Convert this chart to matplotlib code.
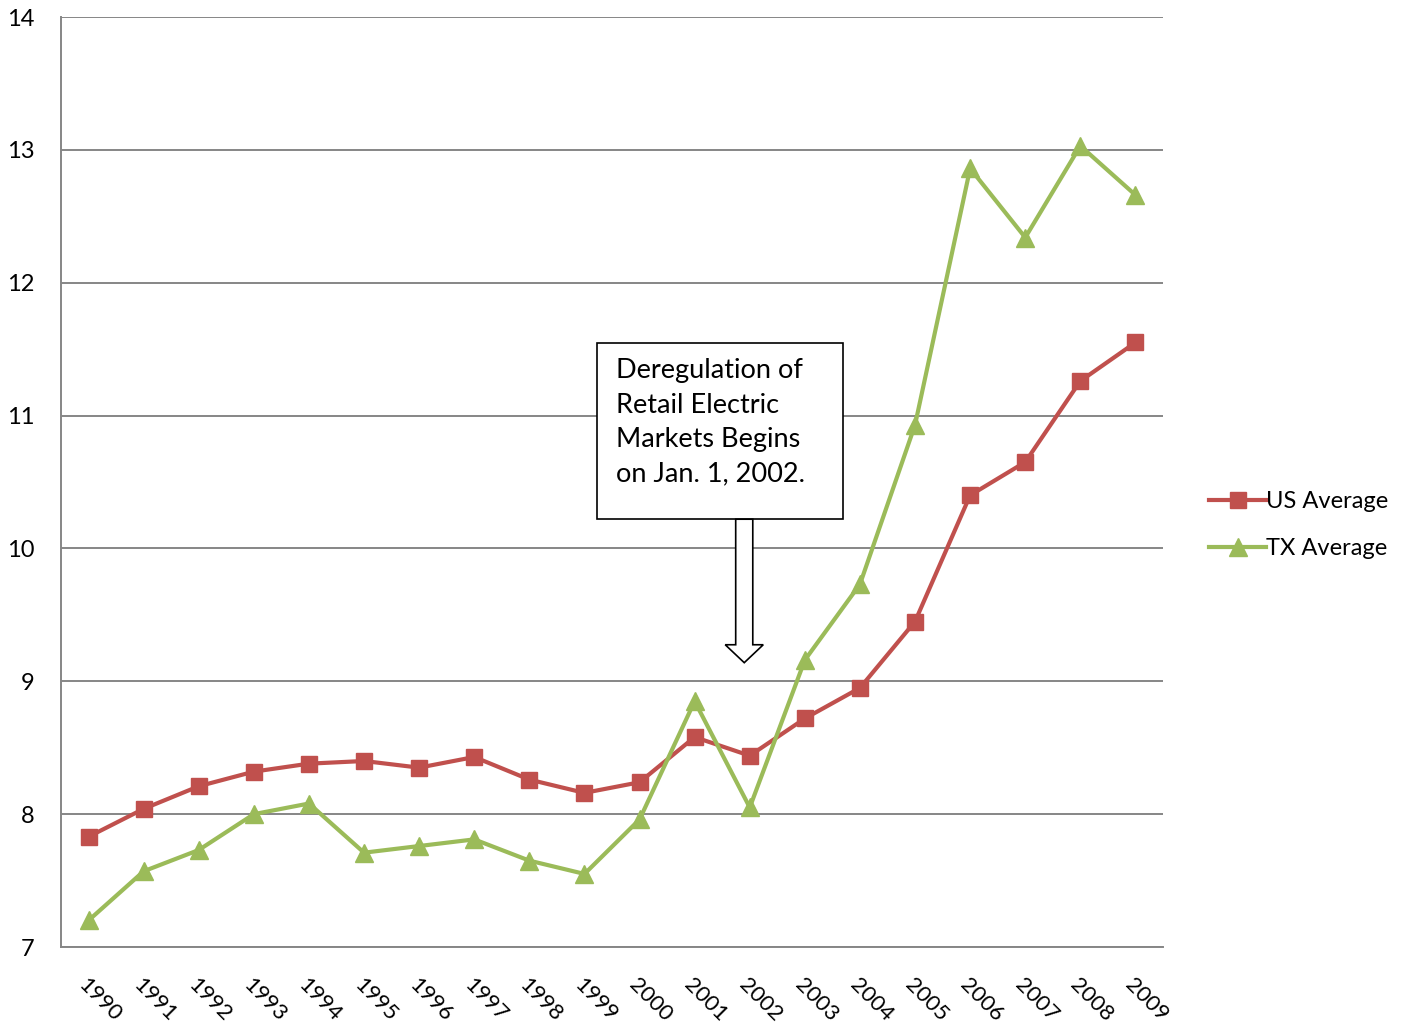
import numpy as np
import matplotlib.pyplot as plt
import matplotlib.patches as patches

plt.rcParams['font.family'] = ['Lato', 'DejaVu Sans']

# --- data ---
years = [str(y) for y in range(1990, 2010)]
us_avg = [7.83, 8.04, 8.21, 8.32, 8.38, 8.40, 8.35, 8.43, 8.26, 8.16,
          8.24, 8.58, 8.44, 8.72, 8.95, 9.45, 10.40, 10.65, 11.26, 11.55]
tx_avg = [7.20, 7.57, 7.73, 8.00, 8.08, 7.71, 7.76, 7.81, 7.65, 7.55,
          7.96, 8.85, 8.05, 9.16, 9.73, 10.93, 12.86, 12.34, 13.03, 12.66]
y_ticks = [7, 8, 9, 10, 11, 12, 13, 14]

RED = '#C0504D'
GREEN = '#9BBB59'
GRID = '#868686'

fig = plt.figure(figsize=(14.08, 10.30), dpi=100)
ax = fig.add_axes([61 / 1408, 1 - 947 / 1030, 1102 / 1408, 930 / 1030])

x = np.arange(len(years)) + 0.5
ax.plot(x, us_avg, color=RED, lw=3, marker='s', ms=12, label='US Average', zorder=3)
ax.plot(x, tx_avg, color=GREEN, lw=3, marker='^', ms=13, label='TX Average', zorder=3)

ax.set_xlim(0, len(years))
ax.set_ylim(7, 14)
ax.set_yticks(y_ticks)
ax.set_yticklabels([str(v) for v in y_ticks], fontsize=17)
ax.set_xticks(x)
ax.set_xticklabels(years, rotation=-45, ha='left', va='top', fontsize=16,
                   rotation_mode='anchor')
ax.tick_params(axis='both', length=0)
ax.tick_params(axis='y', pad=19)
ax.tick_params(axis='x', pad=20)
ax.yaxis.grid(True, color=GRID, lw=1.4)
ax.set_axisbelow(True)
for s in ['top', 'right']:
    ax.spines[s].set_visible(False)
ax.spines['left'].set_color(GRID)
ax.spines['bottom'].set_color(GRID)
ax.spines['left'].set_linewidth(1.4)
ax.spines['bottom'].set_linewidth(1.4)

# --- annotation box + arrow ---
box = patches.Rectangle((9.73, 10.22), 4.46, 1.326, fc='white', ec='black',
                        lw=1.2, zorder=4)
ax.add_patch(box)
ax.text(10.08, 11.43, 'Deregulation of\nRetail Electric\nMarkets Begins\non Jan. 1, 2002.',
        fontsize=19.5, va='top', ha='left', linespacing=1.47, zorder=5)
arrow = patches.FancyArrow(12.4, 10.22, 0, -1.08, width=0.31, head_width=0.69,
                           head_length=0.135, length_includes_head=True,
                           fc='white', ec='black', lw=1.2, zorder=4)
ax.add_patch(arrow)

fig.legend(loc='center left', bbox_to_anchor=(1200 / 1408, 1 - 525 / 1030),
           frameon=False, fontsize=17, handlelength=2.4, handletextpad=0.0,
           labelspacing=1.1, borderaxespad=0)

fig.savefig('out.png', dpi=100)
